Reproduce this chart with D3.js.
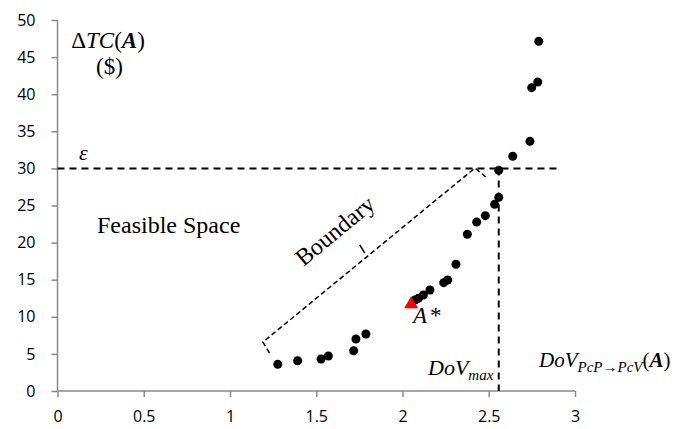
<!DOCTYPE html>
<html>
<head>
<meta charset="utf-8">
<script src="https://cdn.jsdelivr.net/npm/d3@7"></script>
<style>
  body { margin: 0; background: #fff; }
  .tick text { font-family: "Open Sans", sans-serif; font-size: 16px; fill: #000; }
  .lbl { font-family: "Liberation Serif", "Times New Roman", serif; fill: #000; }
</style>
</head>
<body>
<svg width="678" height="429"></svg>
<script>
// solutions found (DoV, delta TC)
var dovValues = [1.277, 1.392, 1.528, 1.570, 1.717, 1.730, 1.788,
  2.072, 2.092, 2.121, 2.159, 2.239, 2.262, 2.310, 2.376, 2.430, 2.480,
  2.534, 2.558, 2.558, 2.639, 2.739, 2.749, 2.784, 2.790];
var costValues = [3.60, 4.08, 4.31, 4.72, 5.43, 7.01, 7.68,
  12.26, 12.49, 12.94, 13.61, 14.60, 14.96, 17.08, 21.12, 22.78, 23.63,
  25.16, 26.10, 29.74, 31.63, 33.65, 40.88, 41.64, 47.13];

// chosen solution A*
var bestPoint = [2.05, 11.9];

// thresholds
var epsilon = 30;
var dovMax = 2.558;
var epsilonEnd = 2.896;

// boundary bracket (data coords)
var bracket = [[2.482, 28.84], [2.42, 30.05], [1.191, 6.59], [1.23, 5.07]];
var bracketMid = [[1.781, 18.6], [1.752, 19.7]];

var xTicks = [0, 0.5, 1, 1.5, 2, 2.5, 3];
var yTicks = d3.range(0, 51, 5);

var svg = d3.select('svg');

var x = d3.scaleLinear().domain([0, 3]).range([57.5, 575]);
var y = d3.scaleLinear().domain([0, 50]).range([391, 20]);

var axisColor = '#898989';

/* ----------- axes ----------- */
var xAxis = svg.append('g')
  .attr('transform', 'translate(0,' + y(0) + ')')
  .call(d3.axisBottom(x).tickValues(xTicks).tickSize(6).tickPadding(14).tickFormat(d3.format('')));

var yAxis = svg.append('g')
  .attr('transform', 'translate(' + x(0) + ',0)')
  .call(d3.axisLeft(y).tickValues(yTicks).tickSize(6).tickPadding(16));

[xAxis, yAxis].forEach(function (g) {
  g.select('.domain').attr('stroke', axisColor).attr('stroke-width', 1.5);
  g.selectAll('.tick line').attr('stroke', axisColor).attr('stroke-width', 1.5);
});
xAxis.select('.domain').attr('d', 'M' + x(0) + ',0H' + x(3));
yAxis.select('.domain').attr('d', 'M0,' + y(0) + 'V' + y(50));

/* ----------- dashed thresholds ----------- */
svg.append('line')
  .attr('x1', x(0)).attr('x2', x(epsilonEnd))
  .attr('y1', y(epsilon)).attr('y2', y(epsilon))
  .attr('stroke', '#000').attr('stroke-width', 2)
  .attr('stroke-dasharray', '7,5');

svg.append('line')
  .attr('x1', x(dovMax)).attr('x2', x(dovMax))
  .attr('y1', y(epsilon)).attr('y2', y(0))
  .attr('stroke', '#000').attr('stroke-width', 2)
  .attr('stroke-dasharray', '7,5');

/* ----------- boundary bracket ----------- */
var line = d3.line().x(function (d) { return x(d[0]); }).y(function (d) { return y(d[1]); });

svg.append('path')
  .attr('d', line(bracket))
  .attr('fill', 'none').attr('stroke', '#000').attr('stroke-width', 1.5)
  .attr('stroke-dasharray', '5,3');

svg.append('path')
  .attr('d', line(bracketMid))
  .attr('fill', 'none').attr('stroke', '#000').attr('stroke-width', 1.5);

/* ----------- points ----------- */
var points = dovValues.map(function (d, i) { return [d, costValues[i]]; });

svg.selectAll('circle.pt')
  .data(points)
  .enter()
  .append('circle')
  .attr('class', 'pt')
  .attr('cx', function (d) { return x(d[0]); })
  .attr('cy', function (d) { return y(d[1]); })
  .attr('r', 4.5)
  .attr('fill', '#000');

svg.append('path')
  .attr('transform', 'translate(' + x(bestPoint[0]) + ',' + y(bestPoint[1]) + ')')
  .attr('d', 'M0,-6.5L7,5.5L-7,5.5Z')
  .attr('fill', '#ff0000');

/* ----------- labels ----------- */
var t = svg.append('text').attr('class', 'lbl').attr('x', 108).attr('y', 48)
  .attr('text-anchor', 'middle').style('font-size', '23px');
t.append('tspan').text('\u0394');
t.append('tspan').attr('font-style', 'italic').text('TC');
t.append('tspan').text('(');
t.append('tspan').attr('font-style', 'italic').attr('font-weight', 'bold').text('A');
t.append('tspan').text(')');

svg.append('text').attr('class', 'lbl').attr('x', 109.5).attr('y', 74)
  .attr('text-anchor', 'middle').style('font-size', '23px').text('($)');

svg.append('text').attr('class', 'lbl').attr('x', 79).attr('y', 160)
  .attr('font-style', 'italic').style('font-size', '22px').text('\u03b5');

svg.append('text').attr('class', 'lbl').attr('x', 97).attr('y', 233)
  .style('font-size', '24px').text('Feasible Space');

svg.append('text').attr('class', 'lbl')
  .attr('transform', 'translate(340,237) rotate(-39.5)')
  .attr('text-anchor', 'middle').style('font-size', '24px').text('Boundary');

var a = svg.append('text').attr('class', 'lbl').attr('x', 413).attr('y', 323)
  .style('font-size', '23px');
a.append('tspan').attr('font-style', 'italic').text('A');
a.append('tspan').attr('dx', 3).text('*');

var dv = svg.append('text').attr('class', 'lbl').attr('x', 428).attr('y', 375)
  .style('font-size', '22px');
dv.append('tspan').attr('font-style', 'italic').text('DoV');
dv.append('tspan').attr('font-style', 'italic').attr('dy', 5).style('font-size', '15px').text('max');

var dp = svg.append('text').attr('class', 'lbl').attr('x', 539).attr('y', 367)
  .style('font-size', '21px');
dp.append('tspan').attr('font-style', 'italic').text('DoV');
dp.append('tspan').attr('font-style', 'italic').attr('dy', 5).style('font-size', '15px').text('PcP\u2192PcV');
dp.append('tspan').attr('dy', -5).text('(');
dp.append('tspan').attr('font-style', 'italic').attr('font-weight', 'bold').text('A');
dp.append('tspan').text(')');
</script>
</body>
</html>
